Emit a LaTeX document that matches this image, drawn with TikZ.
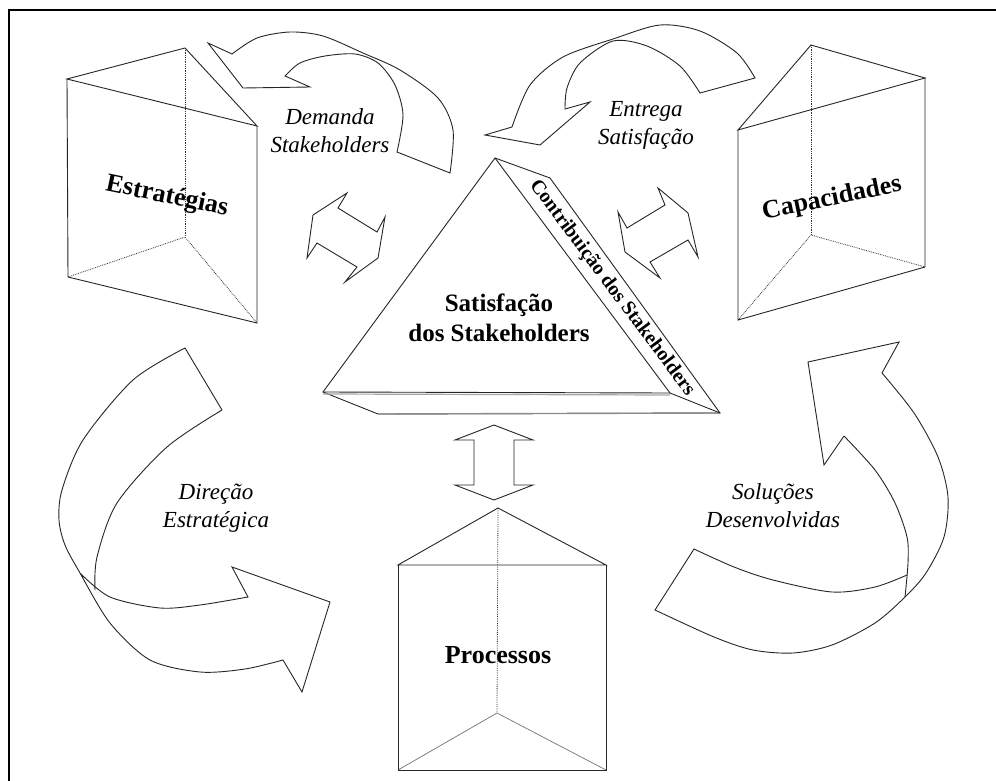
\documentclass[tikz,border=0pt]{standalone}
\usepackage{fontspec}
\setmainfont{Liberation Serif}
\begin{document}
\begin{tikzpicture}[x=1pt,y=-1pt,
  shape line/.style={draw=black!85, line width=0.9pt, line join=miter},
  band/.style={shape line, fill=white},
  hidden edge/.style={draw=black!80, line width=0.8pt, densely dotted},
  prism label/.style={font=\bfseries\fontsize{26}{30}\selectfont, inner sep=0pt},
  flow label/.style={font=\itshape\fontsize{23}{28}\selectfont, align=center, inner sep=0pt},
]
\useasboundingbox (0,0) rectangle (996,781);
\fill[white] (0,0) rectangle (996,781);
% frame (top and left rule)
\draw[line width=2pt] (9,781) -- (9,10) -- (996,10);

% ---------- prism: Estrategias ----------
\coordinate (e1) at (67,79);  \coordinate (e2) at (185,48);  \coordinate (e3) at (257,126);
\coordinate (e4) at (68,277); \coordinate (e5) at (185,237); \coordinate (e6) at (257,323);
\draw[hidden edge] (e2) -- (e5);
\draw[hidden edge] (e4) -- (e5) -- (e6);
\draw[shape line] (e1) -- (e2) -- (e3) -- cycle;
\draw[shape line] (e1) -- (e4) -- (e6) -- (e3);
\node[prism label, rotate=-11.7] (estr) at (167,197) {Estratégias};

% ---------- prism: Capacidades ----------
\coordinate (c1) at (811,45);  \coordinate (c2) at (738,130); \coordinate (c3) at (925,78);
\coordinate (c4) at (811,235); \coordinate (c5) at (738,320); \coordinate (c6) at (925,267);
\draw[hidden edge] (c1) -- (c4);
\draw[hidden edge] (c5) -- (c4) -- (c6);
\draw[shape line] (c1) -- (c2) -- (c3) -- cycle;
\draw[shape line] (c2) -- (c5) -- (c6) -- (c3);
\node[prism label, rotate=11.6] (capa) at (832,199) {Capacidades};

% ---------- prism: Processos ----------
\coordinate (p1) at (498,508); \coordinate (p2) at (398,565); \coordinate (p3) at (606,565);
\coordinate (p4) at (497,713); \coordinate (p5) at (398,770); \coordinate (p6) at (606,770);
\draw[hidden edge] (p1) -- (p4);
\draw[draw=black!55, line width=0.7pt] (p5) -- (p4) -- (p6);
\draw[shape line] (p1) -- (p2) -- (p3) -- cycle;
\draw[shape line] (p2) -- (p5) -- (p6) -- (p3);
\node[prism label] (proc) at (498,655) {Processos};

% ---------- central triangle ----------
\coordinate (tA) at (495,158); \coordinate (tL) at (323,392); \coordinate (tR) at (670,393);
\coordinate (s1) at (550,178); \coordinate (s2) at (720,413); \coordinate (bb) at (378,414);
\draw[shape line, fill=white] (tL) -- (bb) -- (s2) -- (s1) -- (tA) -- cycle;
\draw[draw=black!35, line width=1.2pt] ([yshift=-2pt]tL) -- ([yshift=-2pt]tR);
\draw[draw=black!45, line width=1.4pt] (bb) -- (s2);
\draw[shape line] (tA) -- (tR) -- (s2);
\draw[shape line] (tL) -- (tR);
\node[font=\bfseries\fontsize{25}{30}\selectfont, align=center, inner sep=0pt] (sat) at (499,318) {Satisfação\\dos Stakeholders};
\node[font=\bfseries\fontsize{20}{24}\selectfont, inner sep=0pt, rotate=-53.3] (contrib) at (612,288) {Contribuição dos Stakeholders};

% ---------- double arrows ----------
\draw[band] (347,193) -- (313,215) -- (307,258) -- (317,243) -- (357,267) -- (345,282)
  -- (378,258) -- (385,217) -- (377,232) -- (338,208) -- cycle;
\draw[band] (658,188) -- (688,213) -- (698,257) -- (688,240) -- (650,262) -- (660,278)
  -- (625,252) -- (618,212) -- (627,228) -- (665,205) -- cycle;
\draw[band] (494,425) -- (533,440) -- (514,440) -- (514,485) -- (533,485) -- (494,500)
  -- (455,485) -- (474,485) -- (474,440) -- (455,440) -- cycle;

% ---------- curved arrow: Demanda Stakeholders ----------
\draw[band] (285,76) -- (310,87) -- (243,88) -- (208,43) -- (232,54)
  -- plot[smooth] coordinates {(232,54) (257,38) (290,32) (323,36) (363,53) (400,70) (438,98) (453,130) (450,173)}
  -- (397,152)
  -- plot[smooth] coordinates {(397,152) (403,115) (395,85) (378,63) (355,54) (325,56) (300,63) (285,76)}
  -- cycle;
\node[flow label] (dem) at (330,131) {Demanda\\Stakeholders};

% ---------- curved arrow: Entrega Satisfacao ----------
\draw[band] (512,127) -- (485,135) -- (540,145) -- (590,102) -- (565,109)
  -- plot[smooth] coordinates {(565,109) (567,88) (580,63) (613,41) (647,46) (680,66) (700,93)}
  -- (755,78)
  -- plot[smooth] coordinates {(755,78) (737,53) (700,31) (660,25) (613,39) (563,57) (530,85) (512,127)}
  -- cycle;
\node[flow label] (ent) at (646,125) {Entrega\\Satisfação};

% ---------- curved arrow: Direcao Estrategica ----------
\draw[band] (222,410) -- (185,348)
  -- plot[smooth] coordinates {(185,348) (133,380) (83,440) (62,490) (59,520) (65,545) (80,573) (110,623) (150,660) (200,672) (245,669) (283,660)}
  -- (302,692) -- (330,602) -- (232,567) -- (248,597)
  -- plot[smooth] coordinates {(248,597) (200,605) (160,608) (110,597) (80,573)};
\draw[shape line] plot[smooth] coordinates {(222,410) (167,447) (117,503) (97,557) (95,590)};
\node[flow label] (dir) at (216,508) {Direção\\Estratégica};

% ---------- curved arrow: Solucoes Desenvolvidas ----------
\draw[band] (844,436) -- (824,465) -- (808,362) -- (899,342) -- (882,373)
  -- plot[smooth] coordinates {(882,373) (914,413) (938,457) (948,497) (944,537) (926,573) (905,597) (875,623) (832,645) (793,653) (753,650) (714,637) (655,610)}
  -- (694,549)
  -- plot[smooth] coordinates {(694,549) (734,567) (773,580) (832,592) (875,587) (907,575)};
\draw[shape line] plot[smooth] coordinates {(844,436) (875,470) (895,503) (907,537) (908,563) (905,597)};
\node[flow label] (sol) at (773,506) {Soluções\\Desenvolvidas};
\end{tikzpicture}
\end{document}
